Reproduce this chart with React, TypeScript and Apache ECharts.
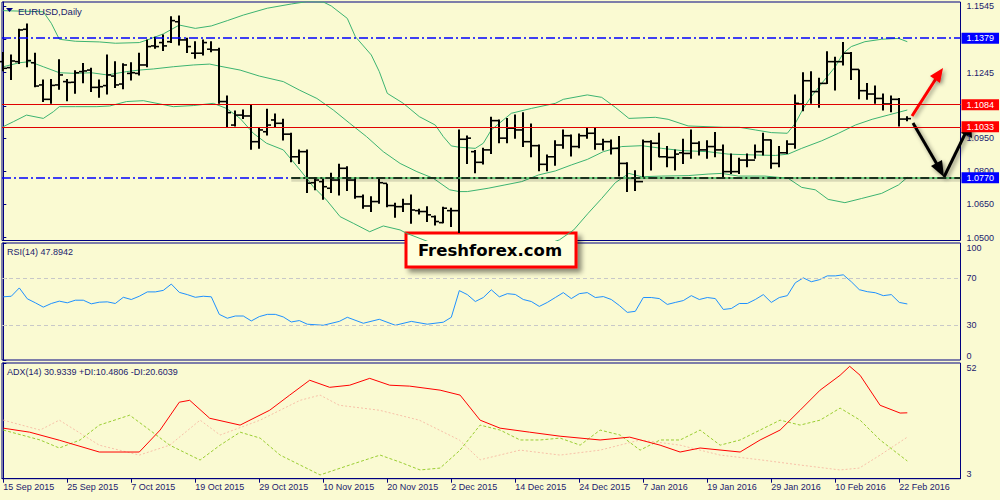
import React, { useEffect, useRef } from "react";
import * as echarts from "echarts";

// ---------- DATA ----------
const dateLabels = ["15 Sep 2015", "25 Sep 2015", "7 Oct 2015", "19 Oct 2015", "29 Oct 2015", "10 Nov 2015", "20 Nov 2015", "2 Dec 2015", "14 Dec 2015", "24 Dec 2015", "7 Jan 2016", "19 Jan 2016", "29 Jan 2016", "10 Feb 2016", "22 Feb 2016"];
const dateTickBars = [0, 8, 16, 24, 32, 40, 48, 56, 64, 72, 80, 88, 96, 104, 112];

const opens = [
  1.1294, 1.1267, 1.1294, 1.1440, 1.1289, 1.1189, 1.1124, 1.1189, 1.1204, 1.1201,
  1.1249, 1.1256, 1.1178, 1.1186, 1.1229, 1.1193, 1.1241, 1.1241, 1.1279, 1.1365,
  1.1380, 1.1384, 1.1474, 1.1392, 1.1332, 1.1332, 1.1350, 1.1347, 1.1114, 1.1008,
  1.1053, 1.1049, 1.0933, 1.0978, 1.1031, 1.1016, 1.0967, 1.0865, 1.0888, 1.0748,
  1.0753, 1.0723, 1.0760, 1.0813, 1.0760, 1.0685, 1.0643, 1.0663, 1.0745, 1.0645,
  1.0640, 1.0652, 1.0622, 1.0618, 1.0595, 1.0568, 1.0622, 1.0622, 1.0944, 1.0888,
  1.0840, 1.0896, 1.1028, 1.0949, 1.0994, 1.0986, 1.0933, 1.0915, 1.0831, 1.0865,
  1.0918, 1.0960, 1.0911, 1.0960, 1.0971, 1.0922, 1.0933, 1.0903, 1.0835, 1.0768,
  1.0753, 1.0933, 1.0926, 1.0865, 1.0862, 1.0883, 1.0880, 1.0926, 1.0896, 1.0911,
  1.0896, 1.0798, 1.0798, 1.0850, 1.0850, 1.0888, 1.0941, 1.0835, 1.0883, 1.0922,
  1.1103, 1.1208, 1.1159, 1.1196, 1.1294, 1.1294, 1.1332, 1.1259, 1.1163, 1.1148,
  1.1128, 1.1103, 1.1124, 1.1035,
];
const highs = [
  1.1335, 1.1324, 1.1440, 1.1464, 1.1332, 1.1211, 1.1214, 1.1302, 1.1214, 1.1253,
  1.1286, 1.1264, 1.1211, 1.1324, 1.1294, 1.1284, 1.1289, 1.1332, 1.1392, 1.1404,
  1.1414, 1.1497, 1.1500, 1.1399, 1.1384, 1.1392, 1.1384, 1.1354, 1.1139, 1.1071,
  1.1076, 1.1098, 1.0994, 1.1079, 1.1058, 1.1034, 1.0971, 1.0896, 1.0896, 1.0772,
  1.0768, 1.0791, 1.0831, 1.0820, 1.0768, 1.0693, 1.0685, 1.0763, 1.0741, 1.0655,
  1.0673, 1.0693, 1.0628, 1.0640, 1.0598, 1.0637, 1.0633, 1.0986, 1.0959, 1.0893,
  1.0903, 1.1043, 1.1031, 1.1038, 1.1053, 1.1064, 1.1013, 1.0918, 1.0873, 1.0937,
  1.0986, 1.0963, 1.0968, 1.0996, 1.0994, 1.0944, 1.0941, 1.0956, 1.0838, 1.0802,
  1.0941, 1.0937, 1.0971, 1.0911, 1.0896, 1.0944, 1.0986, 1.0933, 1.0937, 1.0974,
  1.0918, 1.0877, 1.0858, 1.0877, 1.0918, 1.0971, 1.0941, 1.0911, 1.0937, 1.1144,
  1.1244, 1.1249, 1.1219, 1.1339, 1.1314, 1.1380, 1.1335, 1.1256, 1.1196, 1.1184,
  1.1148, 1.1139, 1.1128, 1.1046,
];
const lows = [
  1.1253, 1.1214, 1.1286, 1.1271, 1.1181, 1.1114, 1.1106, 1.1169, 1.1118, 1.1151,
  1.1199, 1.1159, 1.1133, 1.1148, 1.1177, 1.1172, 1.1211, 1.1234, 1.1271, 1.1354,
  1.1344, 1.1380, 1.1369, 1.1335, 1.1309, 1.1324, 1.1339, 1.1106, 1.0998, 1.1004,
  1.1038, 1.0899, 1.0903, 1.0963, 1.1001, 1.0941, 1.0843, 1.0835, 1.0704, 1.0716,
  1.0673, 1.0704, 1.0693, 1.0713, 1.0678, 1.0633, 1.0618, 1.0655, 1.0640, 1.0592,
  1.0618, 1.0565, 1.0607, 1.0573, 1.0557, 1.0568, 1.0550, 1.0524, 1.0835, 1.0793,
  1.0832, 1.0880, 1.0928, 1.0928, 1.0949, 1.0911, 1.0865, 1.0802, 1.0802, 1.0827,
  1.0903, 1.0868, 1.0906, 1.0949, 1.0899, 1.0896, 1.0878, 1.0778, 1.0708, 1.0713,
  1.0775, 1.0805, 1.0865, 1.0820, 1.0805, 1.0835, 1.0858, 1.0873, 1.0858, 1.0865,
  1.0775, 1.0790, 1.0790, 1.0820, 1.0858, 1.0873, 1.0813, 1.0820, 1.0880, 1.0903,
  1.1073, 1.1106, 1.1088, 1.1196, 1.1166, 1.1279, 1.1214, 1.1127, 1.1124, 1.1106,
  1.1076, 1.1068, 1.1004, 1.1028,
];
const closes = [
  1.1264, 1.1297, 1.1437, 1.1299, 1.1184, 1.1124, 1.1187, 1.1234, 1.1200, 1.1244,
  1.1252, 1.1178, 1.1181, 1.1234, 1.1189, 1.1279, 1.1244, 1.1279, 1.1362, 1.1362,
  1.1365, 1.1479, 1.1392, 1.1362, 1.1332, 1.1380, 1.1347, 1.1114, 1.1064, 1.1053,
  1.1049, 1.0933, 1.0986, 1.1008, 1.1016, 1.0967, 1.0865, 1.0888, 1.0746, 1.0760,
  1.0730, 1.0760, 1.0813, 1.0760, 1.0685, 1.0643, 1.0663, 1.0748, 1.0645, 1.0640,
  1.0652, 1.0625, 1.0618, 1.0603, 1.0573, 1.0633, 1.0622, 1.0944, 1.0949, 1.0840,
  1.0896, 1.1028, 1.0949, 1.0994, 1.0986, 1.0933, 1.0915, 1.0831, 1.0865, 1.0918,
  1.0960, 1.0911, 1.0960, 1.0971, 1.0922, 1.0933, 1.0903, 1.0835, 1.0768, 1.0753,
  1.0933, 1.0926, 1.0865, 1.0862, 1.0877, 1.0880, 1.0926, 1.0896, 1.0911, 1.0896,
  1.0798, 1.0798, 1.0850, 1.0850, 1.0888, 1.0941, 1.0835, 1.0883, 1.0922, 1.1106,
  1.1208, 1.1159, 1.1196, 1.1294, 1.1294, 1.1332, 1.1259, 1.1163, 1.1148, 1.1128,
  1.1103, 1.1124, 1.1035, 1.1037,
];

// Bollinger bands (bar index, price)
const bbUpper = [[0,1.1524],[5,1.1519],[6,1.1467],[7,1.1395],[9,1.1386],[12,1.1383],[14,1.1377],[17,1.1380],[18,1.1392],[20,1.1419],[22,1.1459],[24,1.1444],[26,1.1455],[28,1.1479],[30,1.1504],[33,1.1535],[36,1.1554],[38,1.1565],[40,1.1563],[41,1.1545],[43,1.1489],[44,1.1407],[46,1.1324],[47,1.1249],[48,1.1151],[50,1.1106],[52,1.1046],[54,1.1008],[55,1.0956],[56,1.0914],[57,1.0908],[59,1.0903],[60,1.0926],[61,1.0986],[62.5,1.1031],[63.5,1.1061],[66,1.1083],[69,1.1106],[70,1.1124],[73,1.1144],[74.8,1.1133],[76.5,1.1088],[78.2,1.1038],[81.5,1.1043],[83.1,1.1034],[85.6,1.1004],[90,1.0998],[92,1.0998],[94,1.0986],[96,1.0974],[98,1.0971],[99,1.1016],[100,1.1083],[101,1.1136],[102.3,1.1196],[104,1.1271],[105,1.1332],[106,1.1362],[107.7,1.1384],[109.8,1.1395],[111.9,1.1399],[113,1.1384]];
const bbMiddle = [[0,1.1271],[2,1.1289],[3.3,1.1294],[5,1.1271],[7,1.1244],[9,1.1241],[11,1.1244],[13,1.1234],[15.4,1.1249],[17,1.1256],[18.75,1.1261],[21.25,1.1271],[23.75,1.1279],[25.8,1.1283],[27,1.1274],[29.6,1.1256],[32,1.1229],[35,1.1204],[37,1.1166],[39.2,1.1128],[41.25,1.1076],[43.3,1.1016],[45.4,1.0956],[47.5,1.0888],[49.6,1.0835],[51.7,1.0798],[53.75,1.0768],[55.8,1.0716],[57,1.0708],[58,1.0708],[60.6,1.0723],[62.7,1.0738],[64.8,1.0753],[66.9,1.0783],[69,1.0801],[71,1.0828],[73,1.0853],[75,1.0888],[77.3,1.0911],[79.8,1.0915],[82.3,1.0903],[84.8,1.0893],[88.1,1.0888],[90.6,1.0877],[94,1.0873],[96.5,1.0871],[98.1,1.0877],[99.8,1.0903],[102.3,1.0937],[104.4,1.0971],[106.5,1.1008],[108.6,1.1034],[110.6,1.1053],[113,1.1076]];
const bbLower = [[0,1.1001],[1.25,1.1023],[2.9,1.1053],[5,1.1038],[6.25,1.1068],[7,1.1091],[9,1.1091],[11.7,1.1091],[13.3,1.1094],[15.4,1.1114],[17.5,1.1118],[19.6,1.1103],[21.25,1.1091],[23.75,1.1096],[26.25,1.1106],[27.9,1.1083],[29.6,1.1038],[31.25,1.0971],[32.9,1.0926],[35,1.0896],[37.1,1.0805],[38.75,1.0730],[40.4,1.0670],[42.1,1.0595],[43.75,1.0565],[45.8,1.0527],[47.5,1.0553],[49.6,1.0535],[50.4,1.0520],[54,1.0470],[58,1.0450],[63,1.0440],[67,1.0460],[69.5,1.0490],[71.3,1.0535],[73.1,1.0610],[74.8,1.0677],[76.5,1.0748],[78.2,1.0790],[79.8,1.0775],[82.3,1.0778],[85.6,1.0780],[88.1,1.0787],[89.8,1.0790],[91.9,1.0778],[95.2,1.0778],[98.1,1.0768],[99.8,1.0727],[101.5,1.0716],[103.1,1.0673],[105.2,1.0658],[107.3,1.0677],[109.8,1.0700],[111.9,1.0738],[113,1.0772]];

const rsi = [[0,54.0],[1,54.5],[2,61.6],[3,52.3],[4,48.9],[5,45.2],[6,48.3],[7,50.3],[8,48.9],[9,51.1],[10,51.1],[11,48.0],[12,49.4],[13,49.7],[14,48.3],[15,53.6],[16,51.7],[17,54.5],[18,58.2],[19,58.2],[20,59.5],[21,64.9],[22,57.8],[23,55.9],[24,53.6],[25,54.5],[26,54.0],[27,39.0],[28,35.7],[29,37.6],[30,37.6],[31,33.4],[32,37.1],[33,39.0],[34,39.0],[35,36.8],[36,32.5],[37,33.7],[38,30.6],[40,29.7],[42,33.0],[43,36.5],[45,31.4],[47,34.8],[49,29.7],[51,33.0],[53,30.6],[55,32.3],[56,36.5],[57,59.3],[58,55.9],[59,50.0],[60,53.4],[61,60.0],[62,54.0],[63,56.7],[64,56.0],[65,51.7],[66,50.0],[67,45.8],[68,49.2],[69,53.4],[70,57.6],[71,52.5],[72,56.7],[73,57.6],[74,53.4],[75,54.2],[76,51.7],[77,46.6],[78,40.7],[79,41.6],[80,53.4],[81,53.4],[82,52.5],[83,47.5],[84,49.2],[85,50.8],[86,55.0],[87,51.7],[88,53.4],[89,52.5],[90,43.2],[91,44.0],[92,48.3],[93,48.3],[94,51.7],[95,55.9],[96,49.2],[97,53.4],[98,55.0],[99,66.0],[100,70.2],[101,66.9],[102,68.6],[103,71.9],[104,71.9],[105,72.8],[106,66.9],[107,60.1],[108,58.4],[109,57.5],[110,55.0],[111,55.9],[112,49.2],[113,47.9]];

const adx = [[0,24.4],[3.3,22.7],[7,19.3],[12,14.3],[17,14.3],[19.6,23.6],[22,35.4],[23.3,36.2],[25.8,28.6],[29.6,25.7],[33.3,32.0],[35.8,38.4],[38.3,44.7],[40.8,41.7],[43.3,42.6],[45.8,45.5],[48.3,42.6],[50.8,42.2],[54.6,40.5],[57.1,38.4],[59.6,27.8],[62.1,24.4],[65.8,22.7],[69.6,21.0],[74.6,19.4],[78.3,20.6],[82.1,17.2],[84.6,14.3],[87.1,16.0],[92.1,14.3],[94.6,19.4],[97.1,23.6],[99.6,32.0],[102.1,40.5],[104.6,46.8],[105.8,50.6],[107.1,46.8],[109.6,34.1],[112.1,30.8],[113,30.9]];
const plusDI = [[0,23.6],[4.6,19.4],[7,16.0],[9.6,19.4],[12,25.7],[15.8,29.9],[18.3,23.6],[20.8,17.2],[24.6,10.9],[27.1,17.2],[29.6,22.7],[32.1,20.2],[34.6,13.0],[37.1,8.8],[39.6,4.6],[43.3,8.8],[47.1,13.0],[49.6,10.0],[52.1,6.7],[54.6,7.5],[57.1,15.1],[59.6,25.7],[62.1,23.6],[64.6,19.4],[67.1,19.4],[69.6,20.2],[72.1,17.2],[74.6,23.6],[77.1,21.5],[79.6,15.1],[82.1,19.4],[84.6,19.4],[87.1,23.6],[89.6,17.2],[92.1,19.4],[94.6,23.6],[97.1,27.8],[99.6,25.7],[102.1,27.8],[104.6,32.9],[107.1,27.8],[109.6,19.4],[113,10.5]];
const minusDI = [[0,27.8],[4.6,23.6],[7,27.8],[12,17.2],[17,13.0],[20.8,17.2],[24.6,27.8],[27.1,21.5],[32.1,27.8],[37.1,36.2],[39.6,38.4],[42,34.1],[47,32.0],[52,27.8],[57,19.4],[59.6,11.0],[64.6,15.1],[69.6,13.0],[74.6,15.1],[79.6,19.4],[84.6,17.2],[89.6,13.0],[94.6,11.0],[99.6,8.8],[104.6,6.7],[107,7.5],[109.6,13.0],[113,20.6]];

const mainTicks = [1.1545, 1.1395, 1.1245, 1.1095, 1.0950, 1.0800, 1.0650, 1.0500];
const rsiTicks = [0, 30, 70, 100];
const adxTicks = [3, 52];

const levelHigh = 1.1379;
const levelLow = 1.0770;
const levelResA = 1.10875;
const levelResB = 1.10765;
const levelBid = 1.1035;

// ---------- LAYOUT ----------
const GL = 2;
const GW = 958.5;
const X_MIN = -0.1625;
const X_MAX = X_MIN + GW / 8;
const FONT = "Liberation Sans, Arial, sans-serif";
const NAVY = "#000080";
const TXT = "#1a1a6e";
const BG = "#fafad2";

export default function App() {
  const ref = useRef<HTMLDivElement>(null);

  useEffect(() => {
    if (!ref.current) return;
    const chart = echarts.init(ref.current, undefined, { renderer: "svg" });

    const ohlc = opens.map((o, i) => [i, o, highs[i], lows[i], closes[i]]);

    const xBase = (gi: number, show: boolean) => ({
      type: "value",
      gridIndex: gi,
      min: X_MIN,
      max: X_MAX,
      show,
      splitLine: { show: false },
      axisLine: { show: show, lineStyle: { color: NAVY, width: 1 } },
      axisTick: show
        ? { show: true, customValues: dateTickBars, length: 4, lineStyle: { color: NAVY, width: 1 } }
        : { show: false },
      axisLabel: show
        ? {
            show: true,
            customValues: dateTickBars,
            formatter: (v: number) => {
              const k = dateTickBars.indexOf(Math.round(v));
              return k >= 0 ? dateLabels[k] : "";
            },
            align: "left",
            color: TXT,
            fontFamily: FONT,
            fontSize: 9,
            margin: 4,
            hideOverlap: false,
            showMinLabel: true,
            showMaxLabel: true,
          }
        : { show: false },
    });

    const yCommon = {
      position: "right",
      splitLine: { show: false },
      axisLine: { show: true, lineStyle: { color: NAVY, width: 1 } },
    };

    const levelLabel = (txt: string, bg: string) => ({
      show: true,
      position: "end",
      formatter: txt,
      distance: 1,
      color: "#ffffff",
      backgroundColor: bg,
      padding: [1, 5, 0, 5],
      fontFamily: FONT,
      fontSize: 9,
      lineHeight: 10,
    });

    const dashDot = [9, 3, 2, 3];

    const option: any = {
      animation: false,
      backgroundColor: BG,
      grid: [
        { left: GL, top: 2, width: GW, height: 238.5, show: true, borderColor: NAVY, borderWidth: 1, backgroundColor: "transparent" },
        { left: GL, top: 243, width: GW, height: 117, show: true, borderColor: NAVY, borderWidth: 1, backgroundColor: "transparent" },
        { left: GL, top: 363, width: GW, height: 115.7, show: true, borderColor: NAVY, borderWidth: 1, backgroundColor: "transparent" },
      ],
      xAxis: [xBase(0, false), xBase(1, false), xBase(2, true)],
      yAxis: [
        {
          ...yCommon,
          type: "value",
          gridIndex: 0,
          min: 1.04874,
          max: 1.1563,
          axisTick: { show: true, length: 3, customValues: mainTicks, lineStyle: { color: NAVY } },
          axisLabel: {
            customValues: mainTicks,
            formatter: (v: number) => v.toFixed(4),
            color: TXT,
            fontFamily: FONT,
            fontSize: 9,
            margin: 6,
            align: "left",
          },
        },
        {
          ...yCommon,
          type: "value",
          gridIndex: 1,
          min: 0,
          max: 100,
          axisTick: { show: true, length: 3, customValues: rsiTicks, lineStyle: { color: NAVY } },
          axisLabel: {
            customValues: rsiTicks,
            color: TXT,
            fontFamily: FONT,
            fontSize: 9,
            margin: 6,
            align: "left",
            verticalAlignMinLabel: "bottom",
            verticalAlignMaxLabel: "top",
          },
        },
        {
          ...yCommon,
          type: "value",
          gridIndex: 2,
          min: 3,
          max: 52,
          axisTick: { show: true, length: 3, customValues: adxTicks, lineStyle: { color: NAVY } },
          axisLabel: {
            customValues: adxTicks,
            color: TXT,
            fontFamily: FONT,
            fontSize: 9,
            margin: 6,
            align: "left",
            verticalAlignMinLabel: "bottom",
            verticalAlignMaxLabel: "top",
          },
        },
      ],
      series: [
        {
          type: "line",
          name: "bbUpper",
          xAxisIndex: 0,
          yAxisIndex: 0,
          data: bbUpper,
          symbol: "none",
          lineStyle: { color: "#3cb371", width: 1 },
          clip: true,
          z: 1,
        },
        {
          type: "line",
          name: "bbLower",
          xAxisIndex: 0,
          yAxisIndex: 0,
          data: bbLower,
          symbol: "none",
          lineStyle: { color: "#3cb371", width: 1 },
          clip: true,
          z: 1,
        },
        {
          type: "line",
          name: "bbMiddle",
          xAxisIndex: 0,
          yAxisIndex: 0,
          data: bbMiddle,
          symbol: "none",
          lineStyle: { color: "#3cb371", width: 1 },
          clip: true,
          z: 1,
          markLine: {
            silent: true,
            symbol: ["none", "none"],
            animation: false,
            data: [
              { yAxis: levelHigh, lineStyle: { color: "#0000ff", width: 1.5, type: dashDot }, label: levelLabel("1.1379", "#0000ff") },
              { yAxis: levelResA, lineStyle: { color: "#e00000", width: 1, type: "solid" }, label: levelLabel("1.1084", "#ff0000") },
              { yAxis: levelResB, lineStyle: { color: "#e00000", width: 1, type: "solid" }, label: { show: false } },
              { yAxis: levelBid, lineStyle: { color: "#e00000", width: 1, type: "solid" }, label: levelLabel("1.1033", "#ff0000") },
              [
                { coord: [X_MIN, levelLow], lineStyle: { color: "#0000ff", width: 1.5, type: dashDot }, label: { show: false } },
                { coord: [36, levelLow] },
              ],
            ],
          },
        },
        {
          // the drawn support line at 1.0770 (black dash-dot over a green line, soft shadow)
          type: "line",
          name: "support",
          xAxisIndex: 0,
          yAxisIndex: 0,
          data: [],
          z: 2,
          markLine: {
            silent: true,
            symbol: ["none", "none"],
            animation: false,
            data: [
              [
                { coord: [36, levelLow - 0.0008], lineStyle: { color: "rgba(0,0,0,0.13)", width: 3.5, type: "solid" }, label: { show: false } },
                { coord: [X_MAX, levelLow - 0.0008] },
              ],
              [
                { coord: [36, levelLow], lineStyle: { color: "#40c060", width: 1.5, type: "solid" }, label: { show: false } },
                { coord: [X_MAX, levelLow] },
              ],
              [
                { coord: [36, levelLow], lineStyle: { color: "#000000", width: 1.5, type: dashDot }, label: levelLabel("1.0770", "#0000ff") },
                { coord: [X_MAX, levelLow] },
              ],
            ],
          },
        },
        {
          type: "custom",
          name: "EURUSD",
          xAxisIndex: 0,
          yAxisIndex: 0,
          data: ohlc,
          z: 3,
          encode: { x: 0, y: [1, 2, 3, 4] },
          renderItem: (params: any, api: any) => {
            const x = api.value(0);
            const pO = api.coord([x, api.value(1)]);
            const pH = api.coord([x, api.value(2)]);
            const pL = api.coord([x, api.value(3)]);
            const pC = api.coord([x, api.value(4)]);
            const cx = Math.round(pH[0]);
            const st = { stroke: "#000000", lineWidth: 2 };
            const tk = { stroke: "#000000", lineWidth: 1.6 };
            return {
              type: "group",
              children: [
                { type: "line", shape: { x1: cx, y1: pH[1] - 0.5, x2: cx, y2: pL[1] + 0.5 }, style: st },
                { type: "line", shape: { x1: cx - 4, y1: pO[1], x2: cx, y2: pO[1] }, style: tk },
                { type: "line", shape: { x1: cx, y1: pC[1], x2: cx + 4, y2: pC[1] }, style: tk },
              ],
            };
          },
        },
        {
          type: "line",
          name: "RSI",
          xAxisIndex: 1,
          yAxisIndex: 1,
          data: rsi,
          symbol: "none",
          lineStyle: { color: "#1e90ff", width: 1 },
          markLine: {
            silent: true,
            symbol: ["none", "none"],
            label: { show: false },
            lineStyle: { color: "#c8c8c8", type: [4, 3], width: 1 },
            data: [{ yAxis: 70 }, { yAxis: 30 }],
          },
        },
        {
          type: "line",
          name: "-DI",
          xAxisIndex: 2,
          yAxisIndex: 2,
          data: minusDI,
          symbol: "none",
          lineStyle: { color: "#f7c0a8", width: 1, type: [2, 2] },
        },
        {
          type: "line",
          name: "+DI",
          xAxisIndex: 2,
          yAxisIndex: 2,
          data: plusDI,
          symbol: "none",
          lineStyle: { color: "#9acd32", width: 1, type: [3, 2] },
        },
        {
          type: "line",
          name: "ADX",
          xAxisIndex: 2,
          yAxisIndex: 2,
          data: adx,
          symbol: "none",
          lineStyle: { color: "#ff0000", width: 1 },
        },
      ],
      graphic: [
        { type: "polygon", shape: { points: [[6, 8], [13, 8], [9.5, 12]] }, style: { fill: NAVY }, z: 10 },
        { type: "text", x: 18, y: 11, style: { text: "EURUSD,Daily", fill: TXT, font: `9.5px ${FONT}`, textVerticalAlign: "middle" }, z: 10 },
        { type: "text", x: 7, y: 251.5, style: { text: "RSI(14) 47.8942", fill: TXT, font: `9px ${FONT}`, textVerticalAlign: "middle" }, z: 10 },
        { type: "text", x: 7, y: 371.5, style: { text: "ADX(14) 30.9339 +DI:10.4806 -DI:20.6039", fill: TXT, font: `9px ${FONT}`, textVerticalAlign: "middle" }, z: 10 },
        // red arrow (up)
        {
          type: "group",
          z: 20,
          children: [
            { type: "line", shape: { x1: 912, y1: 116, x2: 937, y2: 77 }, style: { stroke: "#ff0000", lineWidth: 3, shadowBlur: 4, shadowColor: "rgba(0,0,0,0.4)", shadowOffsetX: 2, shadowOffsetY: 2 } },
            { type: "polygon", shape: { points: [[943, 68], [940, 83], [930, 76]] }, style: { fill: "#ff0000", shadowBlur: 4, shadowColor: "rgba(0,0,0,0.4)", shadowOffsetX: 2, shadowOffsetY: 2 } },
          ],
        },
        // black arrows (down then up)
        {
          type: "group",
          z: 20,
          children: [
            { type: "line", shape: { x1: 913, y1: 123, x2: 938, y2: 166 }, style: { stroke: "#000000", lineWidth: 3, shadowBlur: 4, shadowColor: "rgba(0,0,0,0.45)", shadowOffsetX: 2, shadowOffsetY: 2 } },
            { type: "polygon", shape: { points: [[944, 177], [942, 160], [931, 166]] }, style: { fill: "#000000", shadowBlur: 4, shadowColor: "rgba(0,0,0,0.45)", shadowOffsetX: 2, shadowOffsetY: 2 } },
            { type: "line", shape: { x1: 944, y1: 177, x2: 966, y2: 132 }, style: { stroke: "#000000", lineWidth: 3, shadowBlur: 4, shadowColor: "rgba(0,0,0,0.45)", shadowOffsetX: 2, shadowOffsetY: 2 } },
            { type: "polygon", shape: { points: [[971, 121], [972, 138], [961, 133]] }, style: { fill: "#000000", shadowBlur: 4, shadowColor: "rgba(0,0,0,0.45)", shadowOffsetX: 2, shadowOffsetY: 2 } },
          ],
        },
        // Freshforex box
        {
          type: "group",
          z: 30,
          children: [
            { type: "rect", shape: { x: 406, y: 233, width: 170, height: 34 }, style: { fill: "#ffffdd", stroke: "#ff0000", lineWidth: 3, shadowBlur: 5, shadowColor: "rgba(0,0,0,0.45)", shadowOffsetX: 4, shadowOffsetY: 4 } },
            { type: "text", x: 490, y: 250.5, style: { text: "Freshforex.com", fill: "#000000", font: "bold 16.5px DejaVu Sans, Verdana, sans-serif", textAlign: "center", textVerticalAlign: "middle" } },
          ],
        },
      ],
    };

    chart.setOption(option);
    return () => chart.dispose();
  }, []);

  return (
    <div
      ref={ref}
      style={{ position: "fixed", left: 0, top: 0, width: 1000, height: 500, background: BG }}
    />
  );
}
